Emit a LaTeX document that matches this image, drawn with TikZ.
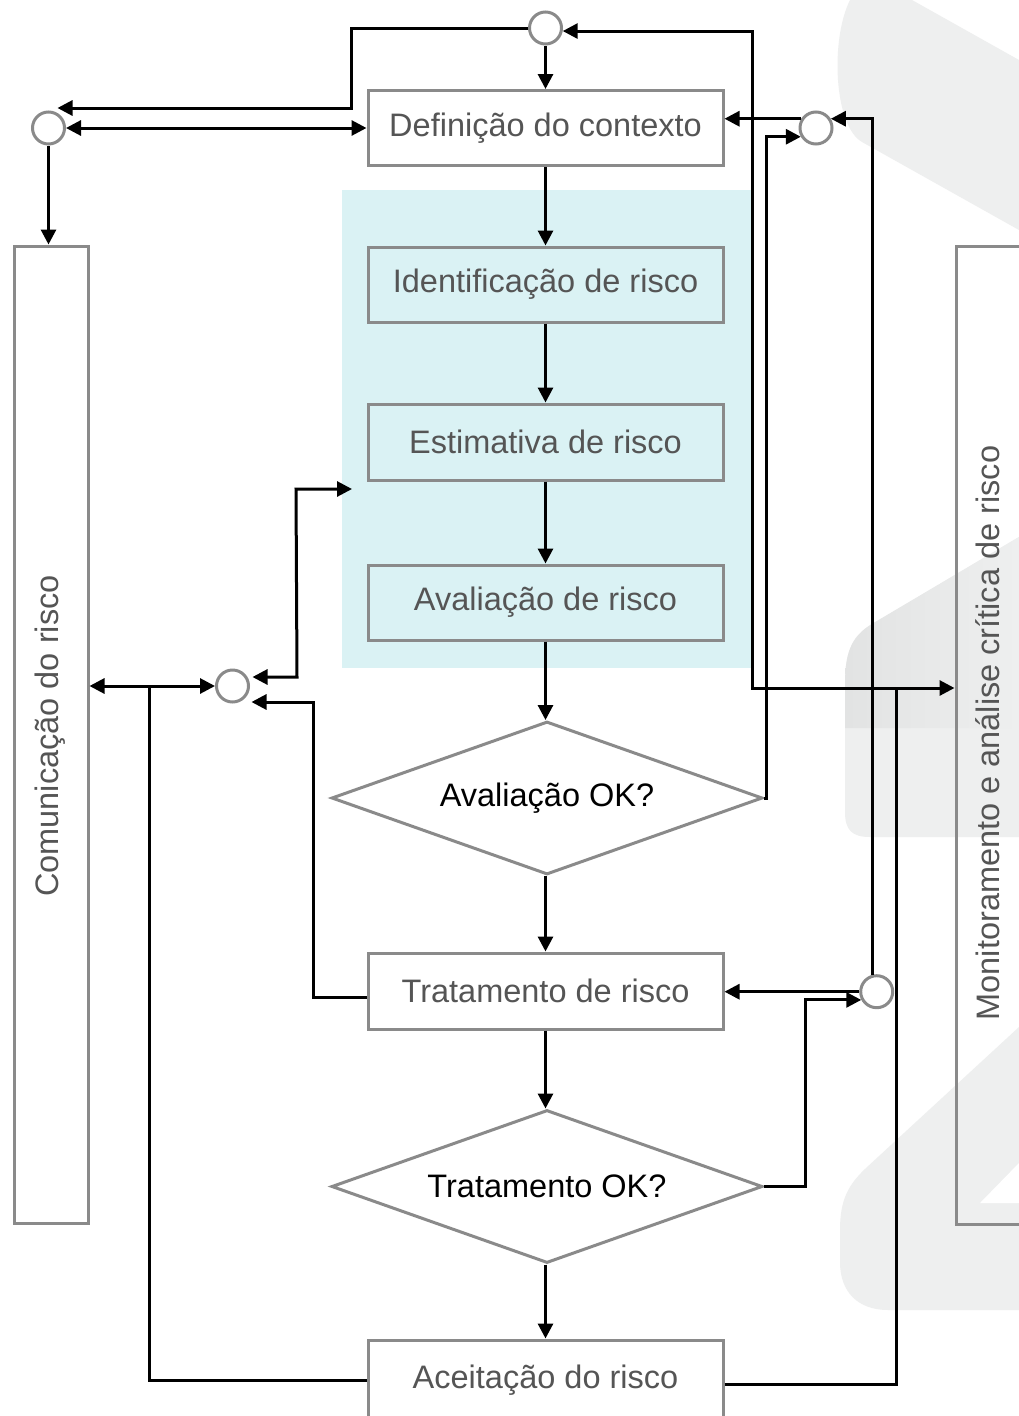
\documentclass[tikz,border=0pt]{standalone}
\usepackage{fontspec}
\setmainfont{Liberation Sans}
\usetikzlibrary{shapes.geometric,arrows.meta,calc}
\definecolor{wm}{HTML}{EEEFEF}
\definecolor{wmd}{HTML}{E2E3E3}
\definecolor{cy}{HTML}{DAF2F4}
\definecolor{bd}{HTML}{8A8A8A}
\definecolor{tx}{HTML}{555555}
\begin{document}
\begin{tikzpicture}[x=1pt,y=-1pt,
  font=\fontsize{32.5}{38}\selectfont,
  box/.style={draw=bd, line width=3pt, minimum width=355pt, inner sep=0pt, text=tx},
  dec/.style={diamond, draw=bd, line width=3pt, minimum width=431pt, minimum height=153pt, aspect=2.8, inner sep=0pt, text=black},
  circ/.style={circle, draw=bd, fill=white, line width=3pt, minimum size=32pt, inner sep=0pt},
  side/.style={draw=bd, line width=3pt, inner sep=0pt},
  ln/.style={line width=3pt, black},
  arr/.style={ln, -{Triangle[length=15pt,width=15pt]}},
  darr/.style={ln, {Triangle[length=15pt,width=15pt]}-{Triangle[length=15pt,width=15pt]}}]
\useasboundingbox (0,0) rectangle (1019,1416);
\clip (0,0) rectangle (1019,1416);
\fill[white] (0,0) rectangle (1019,1416);
% watermark
\fill[wm] (850,0) -- (912,0) -- (1019,60) -- (1019,230) -- (862,142) .. controls (834,126) and (830,40) .. (850,0) -- cycle;
\fill[wm] (1019,537) -- (872,624) .. controls (850,637) and (845,655) .. (845,685) -- (845,812) .. controls (845,830) and (852,837) .. (870,837) -- (1019,837) -- cycle;
\shade[left color=wmd, right color=wm] (1019,537) -- (872,624) .. controls (850,637) and (845,655) .. (845,685) -- (845,728) -- (1019,728) -- cycle;
\fill[wm] (1019,1027) -- (866,1168) .. controls (848,1185) and (840,1200) .. (840,1230) -- (840,1262) .. controls (840,1292) and (858,1310) .. (888,1310) -- (1019,1310) -- cycle;
\fill[white] (980,1203) -- (1019,1163) -- (1019,1203) -- cycle;
% cyan group
\node[fill=cy, inner sep=0pt, minimum width=410pt, minimum height=478pt] (grp) at (547,429) {};
% main boxes
\node[box, minimum height=75pt] (ctx) at (545.5,128) {Definição do contexto};
\node[box, minimum height=75pt] (ident) at (545.5,284.5) {Identificação de risco};
\node[box, minimum height=76pt] (estim) at (545.5,442) {Estimativa de risco};
\node[box, minimum height=75pt] (avalr) at (545.5,602.5) {Avaliação de risco};
\node[dec] (dAval) at (547,798) {Avaliação OK?};
\node[box, minimum height=76pt] (trat) at (545.5,991) {Tratamento de risco};
\node[dec] (dTrat) at (547,1186.5) {Tratamento OK?};
\node[box, minimum height=80pt] (acc) at (545.5,1380) {Aceitação do risco};
% side boxes
\node[side, minimum width=74pt, minimum height=977pt] (comm) at (51,734.5) {};
\node[rotate=90, text=tx] (commlbl) at (50,736) {Comunicação do risco};
\node[side, minimum width=90pt, minimum height=978pt] (mon) at (1001,735) {};
\node[rotate=90, text=tx] (monlbl) at (988,733) {Monitoramento e análise crítica de risco};
% circles
\node[circ] (ctop) at (545.5,28) {};
\node[circ] (cleft) at (48.5,128) {};
\node[circ] (cright) at (816,128) {};
\node[circ] (cmid) at (232.5,686) {};
\node[circ] (cbot) at (876.7,991.7) {};
% helper coordinates
\coordinate (tL) at ($(cleft.center)+(9,-20)$);
\coordinate (tA) at ($(cmid.center)+(20,-9)$);
\coordinate (tC) at ($(cmid.center)+(19,16)$);
\coordinate (tB) at (352,489);
\coordinate (j1) at (896,688);
% main flow
\draw[arr] (ctop.south) -- (ctop.south |- ctx.north);
\draw[arr] (ctx.south) -- (ident.north);
\draw[arr] (ident.south) -- (estim.north);
\draw[arr] (estim.south) -- (avalr.north);
\draw[arr] (avalr.south) -- (avalr.south |- dAval.north);
\draw[arr] (avalr.south |- dAval.south) -- (trat.north);
\draw[arr] (trat.south) -- (trat.south |- dTrat.north);
\draw[arr] (trat.south |- dTrat.south) -- (acc.north);
% top loop
\draw[arr] (ctop.west) -- (351,28) |- (tL);
\draw[darr] (cleft.east) -- (ctx.west);
\draw[arr] (cleft.south) -- (cleft.south |- comm.north);
% right side
\draw[arr] (cright.148) -- (cright.148 -| ctx.east);
\draw[arr] (cbot.104) |- (cright.32);
\draw[arr] (dAval.east) -- ++(2,0) |- (cright.210);
\draw[arr] (cbot.west) -- (cbot.west -| trat.east);
\draw[arr] (dTrat.east) -- ++(41,0) |- (cbot.208);
\draw[arr] ($(acc.east)+(0,4)$) -| (j1) -- (j1 -| mon.west);
\draw[arr] (j1) -- (752,688) |- (ctop.-10);
% left side
\draw[darr] (cmid.west -| comm.east) -- (cmid.west);
\draw[ln] (acc.west) -| ($(cmid.west)+(-66,0)$);
\draw[darr] (tA) -- (297,677) -- (296,489) -- (tB);
\draw[arr] ($(trat.west)+(0,6)$) -| (313,702) -- (tC);
\end{tikzpicture}
\end{document}
